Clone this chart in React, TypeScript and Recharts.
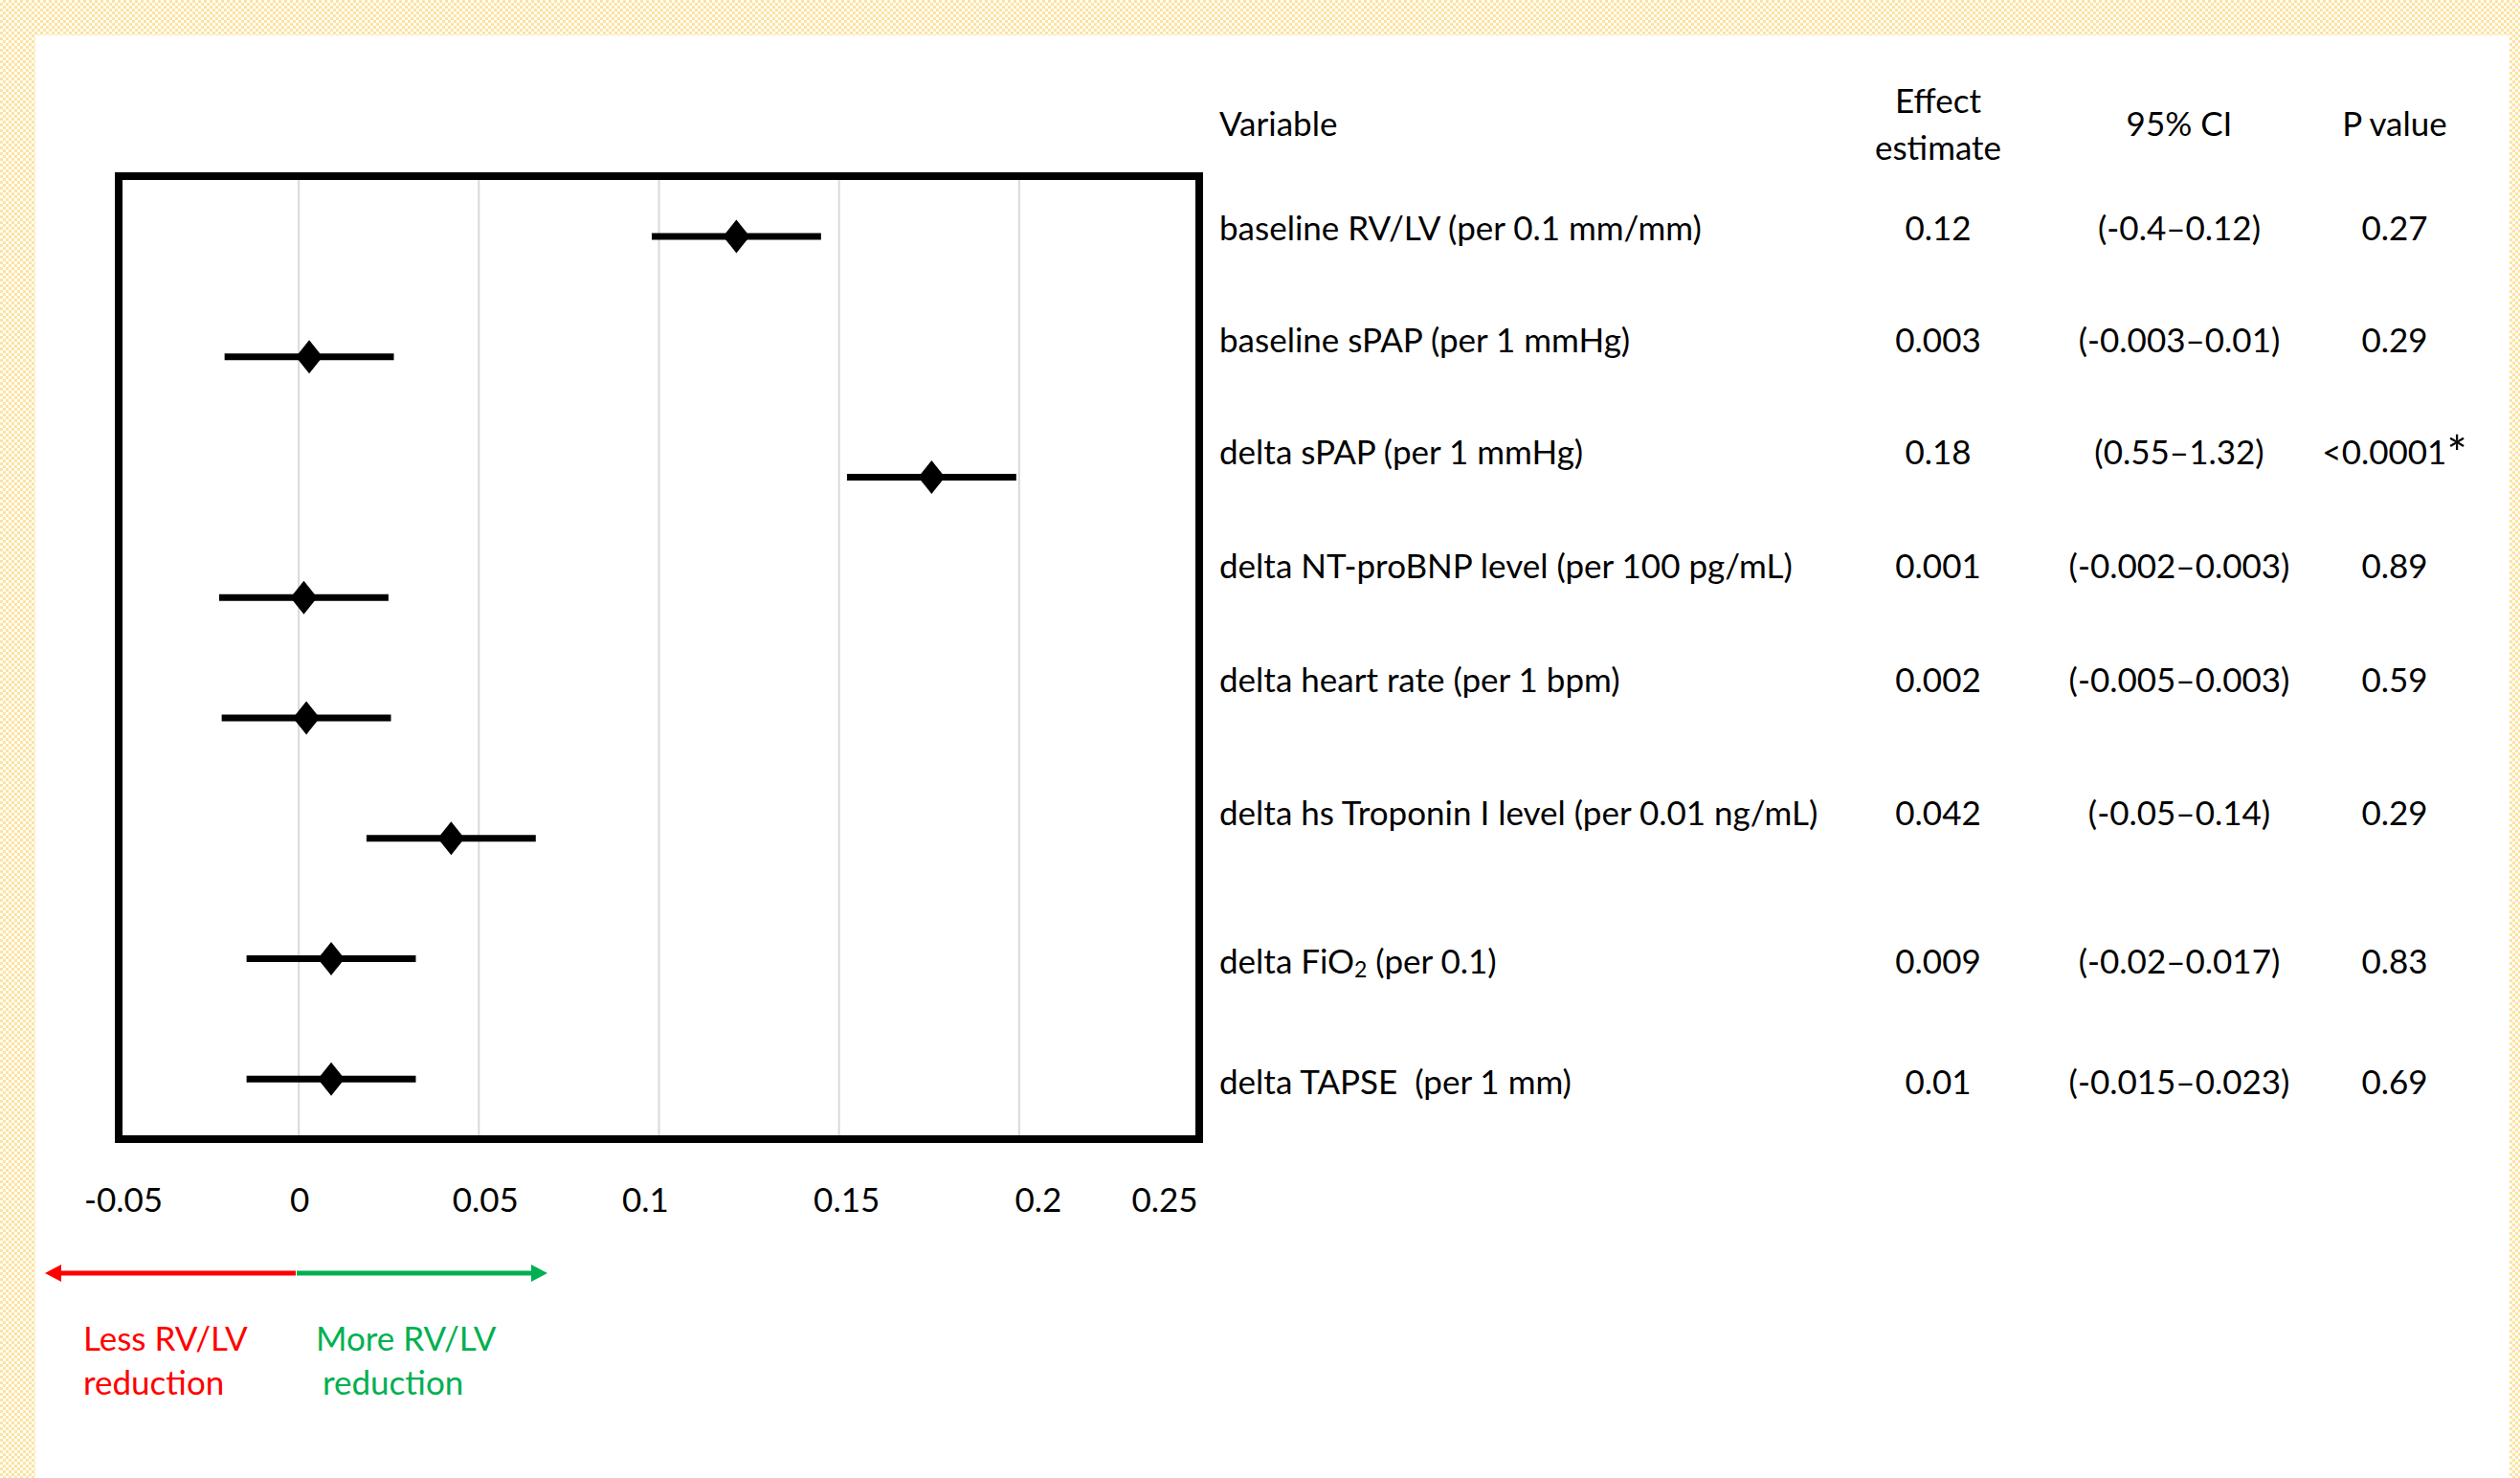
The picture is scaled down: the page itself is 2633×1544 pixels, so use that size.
import React from 'react';
import { ScatterChart, Scatter, XAxis, YAxis, CartesianGrid, ErrorBar, ReferenceArea } from 'recharts';

// ---------- data ----------
const variables = [
  'baseline RV/LV (per 0.1 mm/mm)',
  'baseline sPAP (per 1 mmHg)',
  'delta sPAP (per 1 mmHg)',
  'delta NT-proBNP level (per 100 pg/mL)',
  'delta heart rate (per 1 bpm)',
  'delta hs Troponin I level (per 0.01 ng/mL)',
  'delta FiO2 (per 0.1)',
  'delta TAPSE  (per 1 mm)',
];
// plotted marker positions
const plottedEstimates = [0.1215, 0.0029, 0.1757, 0.0014, 0.0021, 0.0423, 0.009, 0.009];
// error-bar half widths, left and right
const barMinus = [0.0235, 0.0235, 0.0235, 0.0235, 0.0235, 0.0235, 0.0235, 0.0235];
const barPlus = [0.0235, 0.0235, 0.0235, 0.0235, 0.0235, 0.0235, 0.0235, 0.0235];
// table columns
const effectLabels = ['0.12', '0.003', '0.18', '0.001', '0.002', '0.042', '0.009', '0.01'];
const ciLabels = [
  '(-0.4–0.12)',
  '(-0.003–0.01)',
  '(0.55–1.32)',
  '(-0.002–0.003)',
  '(-0.005–0.003)',
  '(-0.05–0.14)',
  '(-0.02–0.017)',
  '(-0.015–0.023)',
];
const pLabels = ['0.27', '0.29', '<0.0001', '0.89', '0.59', '0.29', '0.83', '0.69'];
const pSignificant = [false, false, true, false, false, false, false, false];
const xTicks = [-0.05, 0, 0.05, 0.1, 0.15, 0.2, 0.25];

const chartData = variables.map((name, i) => ({
  name,
  est: plottedEstimates[i],
  err: [barMinus[i], barPlus[i]],
}));

// ---------- layout / style ----------
const FONT = 'Lato, "Open Sans", sans-serif';
const FS = 35;
const tableRowY = [237, 354, 471, 590, 709, 848, 1003, 1129];
const COL_VAR = 1274;
const COL_EFF = 2025;
const COL_CI = 2277;
const COL_P = 2502;
const tickNudge: Record<string, number> = {
  '-0.05': 5,
  '0': 1,
  '0.05': 7,
  '0.1': -14,
  '0.15': 8,
  '0.2': 20,
  '0.25': -36,
};

const Diamond = (props: any) => {
  const { cx, cy } = props;
  if (cx == null || cy == null) return null;
  const hw = 14;
  const hh = 17.5;
  return (
    <path
      d={`M${cx},${cy - hh} L${cx + hw},${cy} L${cx},${cy + hh} L${cx - hw},${cy} Z`}
      fill="#000"
      stroke="none"
    />
  );
};

const XTick = (props: any) => {
  const { x, y, payload } = props;
  const key = String(payload.value);
  return (
    <text
      x={x + (tickNudge[key] ?? 0)}
      y={y + 62}
      textAnchor="middle"
      dominantBaseline="central"
      fontFamily={FONT}
      fontSize={FS}
      fill="#000"
    >
      {key}
    </text>
  );
};

const VariableText = ({ label, y }: { label: string; y: number }) => {
  if (label.includes('FiO2')) {
    const [pre, post] = label.split('FiO2');
    return (
      <text x={COL_VAR} y={y} dominantBaseline="central" fontFamily={FONT} fontSize={FS} fill="#000" style={{ whiteSpace: 'pre' }}>
        {pre}FiO
        <tspan fontSize={23} dy={9}>2</tspan>
        <tspan dy={-9}>{post}</tspan>
      </text>
    );
  }
  return (
    <text x={COL_VAR} y={y} dominantBaseline="central" fontFamily={FONT} fontSize={FS} fill="#000" style={{ whiteSpace: 'pre' }}>
      {label}
    </text>
  );
};

const checker =
  'repeating-conic-gradient(#fde3a0 0% 25%, #ffffff 0% 50%) 0 0 / 6px 6px';

export default function App() {
  return (
    <div style={{ position: 'relative', width: 2633, height: 1544, overflow: 'hidden', background: checker }}>
      <style>{'body{margin:0}'}</style>
      <div style={{ position: 'absolute', left: 37, top: 37, width: 2585, height: 1507, background: '#fff' }} />

      <div style={{ position: 'absolute', left: 0, top: 0 }}>
        <ScatterChart width={1300} height={1300} margin={{ top: 184, left: 124, right: 47, bottom: 10 }}>
          <CartesianGrid horizontal={false} stroke="#d9d9d9" strokeWidth={2} />
          <XAxis
            type="number"
            dataKey="est"
            domain={[-0.05, 0.25]}
            ticks={xTicks}
            interval={0}
            allowDataOverflow
            axisLine={false}
            tickLine={false}
            tickSize={0}
            tickMargin={0}
            height={100}
            tick={<XTick />}
          />
          <YAxis type="category" dataKey="name" hide reversed />
          <ReferenceArea x1={-0.05} x2={0.25} fill="none" stroke="#000" strokeWidth={8} ifOverflow="visible" />
          <Scatter data={chartData} shape={<Diamond />} isAnimationActive={false}>
            <ErrorBar dataKey="err" direction="x" width={0} stroke="#000" strokeWidth={7} isAnimationActive={false} />
          </Scatter>
        </ScatterChart>
      </div>

      <svg
        width={2633}
        height={1544}
        style={{ position: 'absolute', left: 0, top: 0, pointerEvents: 'none' }}
      >
        {/* table header */}
        <text x={COL_VAR} y={128} dominantBaseline="central" fontFamily={FONT} fontSize={FS}>Variable</text>
        <text x={COL_EFF} y={104} textAnchor="middle" dominantBaseline="central" fontFamily={FONT} fontSize={FS}>Effect</text>
        <text x={COL_EFF} y={153} textAnchor="middle" dominantBaseline="central" fontFamily={FONT} fontSize={FS}>estimate</text>
        <text x={COL_CI} y={128} textAnchor="middle" dominantBaseline="central" fontFamily={FONT} fontSize={FS}>95% CI</text>
        <text x={COL_P} y={128} textAnchor="middle" dominantBaseline="central" fontFamily={FONT} fontSize={FS}>P value</text>

        {variables.map((v, i) => (
          <g key={v}>
            <VariableText label={v} y={tableRowY[i]} />
            <text x={COL_EFF} y={tableRowY[i]} textAnchor="middle" dominantBaseline="central" fontFamily={FONT} fontSize={FS}>
              {effectLabels[i]}
            </text>
            <text x={COL_CI} y={tableRowY[i]} textAnchor="middle" dominantBaseline="central" fontFamily={FONT} fontSize={FS}>
              {ciLabels[i]}
            </text>
            <text x={COL_P} y={tableRowY[i]} textAnchor="middle" dominantBaseline="central" fontFamily={FONT} fontSize={FS}>
              {pLabels[i]}
              {pSignificant[i] ? (
                <tspan fontSize={50} dy={2}>*</tspan>
              ) : null}
            </text>
          </g>
        ))}

        {/* direction arrows */}
        <line x1={62} y1={1330} x2={309} y2={1330} stroke="#ff0000" strokeWidth={5} />
        <polygon points="47,1330 64,1321 64,1339" fill="#ff0000" />
        <line x1={310} y1={1330} x2={556} y2={1330} stroke="#00b050" strokeWidth={5} />
        <polygon points="572,1330 555,1321 555,1339" fill="#00b050" />

        <text x={87} y={1397} dominantBaseline="central" fontFamily={FONT} fontSize={FS} fill="#ff0000">Less RV/LV</text>
        <text x={87} y={1443} dominantBaseline="central" fontFamily={FONT} fontSize={FS} fill="#ff0000">reduction</text>
        <text x={330} y={1397} dominantBaseline="central" fontFamily={FONT} fontSize={FS} fill="#00b050">More RV/LV</text>
        <text x={337} y={1443} dominantBaseline="central" fontFamily={FONT} fontSize={FS} fill="#00b050">reduction</text>
      </svg>
    </div>
  );
}
